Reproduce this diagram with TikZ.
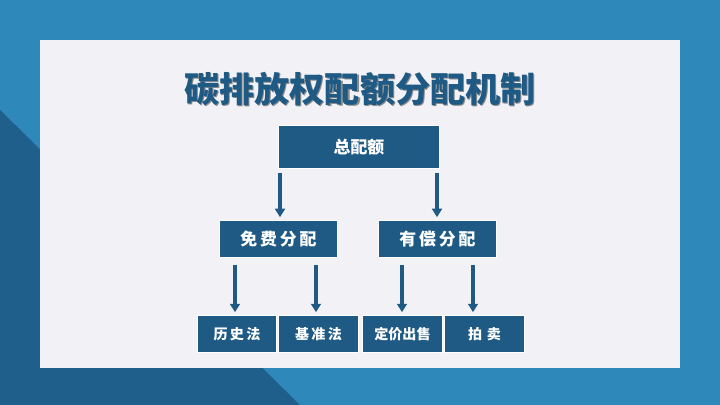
\documentclass[tikz,border=0pt]{standalone}
\usepackage{fontspec}
\newfontfamily\cjk{Noto Sans CJK SC}
\usetikzlibrary{arrows.meta}
\definecolor{boxblue}{HTML}{1F5A85}
\definecolor{bgblue}{HTML}{2E88BA}
\definecolor{bgdark}{HTML}{1E5F8C}
\definecolor{panel}{HTML}{F2F2F6}
\begin{document}
\begin{tikzpicture}[x=0.025cm,y=-0.025cm,>={Triangle[width=7pt,length=6pt]},
    box/.style={draw=white,line width=0.6pt,fill=boxblue,text=white,font=\cjk\bfseries,anchor=north west,inner sep=0pt},
    link/.style={->,line width=2.2pt,draw=boxblue},
    titletext/.style={font=\cjk\bfseries\fontsize{25}{28}\selectfont}]

      \fill[bgblue] (0,0) rectangle (720,405);
      \fill[bgdark] (0,110) -- (300,405) -- (0,405) -- cycle;
      \fill[panel] (40,40) rectangle (680,368);

      % title with a soft shadow
      \node[titletext,text=black!45] (titleshadow) at (361.2,90.2) {碳排放权配额分配机制};
      \node[titletext,text=boxblue] (title) at (360,89) {碳排放权配额分配机制};

      \node[box,minimum width=4.03cm,minimum height=1.08cm,font=\cjk\bfseries\large] (total) at (278,125) {总配额};
      \node[box,minimum width=2.95cm,minimum height=0.93cm,font=\cjk\bfseries\large] (free) at (219,220) {免\,费\,分\,配};
      \node[box,minimum width=2.95cm,minimum height=0.93cm,font=\cjk\bfseries\large] (paid) at (378,220) {有\,偿\,分\,配};
      \node[box,minimum width=1.98cm,minimum height=0.93cm] (hist) at (197,315) {历\,史\,法};
      \node[box,minimum width=2.0cm,minimum height=0.93cm] (bench) at (278,315) {基\,准\,法};
      \node[box,minimum width=2.0cm,minimum height=0.93cm] (price) at (362,315) {定价出售};
      \node[box,minimum width=2.0cm,minimum height=0.93cm] (auction) at (444,315) {拍\,\,卖};

      \coordinate (a1) at (280,173); \coordinate (a2) at (437,173);
      \coordinate (b1) at (235,265); \coordinate (b2) at (316,265);
      \coordinate (b3) at (402,265); \coordinate (b4) at (473,265);
      \draw[link] (a1) -- ([yshift=2pt]a1 |- free.north);
      \draw[link] (a2) -- ([yshift=2pt]a2 |- paid.north);
      \draw[link] (b1) -- ([yshift=2pt]b1 |- hist.north);
      \draw[link] (b2) -- ([yshift=2pt]b2 |- bench.north);
      \draw[link] (b3) -- ([yshift=2pt]b3 |- price.north);
      \draw[link] (b4) -- ([yshift=2pt]b4 |- auction.north);
\end{tikzpicture}
\end{document}
